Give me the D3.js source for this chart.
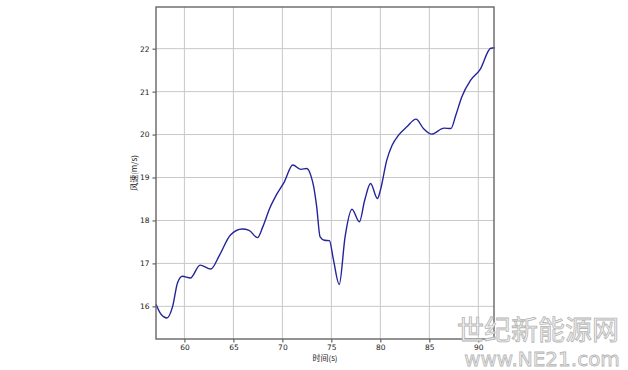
<!DOCTYPE html>
<html>
<head>
<meta charset="utf-8">
<script src="https://cdn.jsdelivr.net/npm/d3@7"></script>
<style>
  body { margin: 0; background: #fff; }
  .tick text { font-family: "DejaVu Sans", sans-serif; font-size: 7.5px; fill: #222; }
</style>
</head>
<body>
<div id="chart"></div>
<script>
// time (s) and wind speed (m/s)
const times = [57.1, 57.6, 58.2, 58.8, 59.3, 59.8, 60.6, 61.6, 62.7, 63.6, 64.7, 65.9, 66.6, 67.45, 68.0,
    68.7, 69.4, 70.2, 71.06, 71.9, 72.5, 72.9, 73.2, 73.5, 73.85, 74.3, 74.8, 75.2, 75.8, 76.4, 77.1,
    77.86, 78.4, 79.0, 79.7, 80.0, 80.65, 81.2, 81.84, 82.7, 83.64, 84.4, 85.24, 86.5, 87.2, 87.7,
    88.3, 89.2, 90.17, 91.27, 91.7];
const speeds = [16.05, 15.82, 15.73, 16.0, 16.55, 16.7, 16.66, 16.96, 16.87, 17.2, 17.66, 17.8, 17.77, 17.6, 17.85,
    18.28, 18.6, 18.9, 19.29, 19.19, 19.21, 19.05, 18.78, 18.32, 17.62, 17.54, 17.53, 17.1, 16.51, 17.62, 18.26,
    17.97, 18.47, 18.86, 18.51, 18.7, 19.4, 19.75, 19.98, 20.18, 20.36, 20.14, 20.01, 20.15, 20.14, 20.45,
    20.87, 21.26, 21.51, 22.01, 22.02];
const xTicks = [60, 65, 70, 75, 80, 85, 90];
const yTicks = [16, 17, 18, 19, 20, 21, 22];

const width = 628, height = 370;
const margin = { top: 7, right: 134, bottom: 31, left: 156 };
const w = width - margin.left - margin.right;
const h = height - margin.top - margin.bottom;

const svg = d3.select('#chart').append('svg')
    .attr('width', width)
    .attr('height', height);

const g = svg.append('g')
    .attr('transform', `translate(${margin.left},${margin.top})`);

const x = d3.scaleLinear().domain([57.1, 91.6]).range([0, w]);
const y = d3.scaleLinear().domain([15.24, 22.97]).range([h, 0]);

// grid
g.append('g').selectAll('line').data(xTicks).enter().append('line')
    .attr('x1', d => x(d)).attr('x2', d => x(d))
    .attr('y1', 0).attr('y2', h)
    .attr('stroke', '#c8c8c8').attr('stroke-width', 1);
g.append('g').selectAll('line').data(yTicks).enter().append('line')
    .attr('x1', 0).attr('x2', w)
    .attr('y1', d => y(d)).attr('y2', d => y(d))
    .attr('stroke', '#c8c8c8').attr('stroke-width', 1);

// axes
const xAxis = g.append('g')
    .attr('transform', `translate(0,${h})`)
    .call(d3.axisBottom(x).tickValues(xTicks).tickSize(3.5).tickPadding(2).tickFormat(d3.format('d')));
const yAxis = g.append('g')
    .call(d3.axisLeft(y).tickValues(yTicks).tickSize(3.5).tickPadding(3).tickFormat(d3.format('d')));
[xAxis, yAxis].forEach(a => {
    a.select('.domain').remove();
    a.selectAll('.tick line').attr('stroke', '#444');
});

// the curve
const data = times.map((t, i) => ({ t: t, v: speeds[i] }));
const line = d3.line()
    .x(d => x(d.t))
    .y(d => y(d.v))
    .curve(d3.curveMonotoneX);

g.append('path')
    .datum(data)
    .attr('fill', 'none')
    .attr('stroke', '#24249a')
    .attr('stroke-width', 1.4)
    .attr('d', line);

// frame
g.append('rect')
    .attr('x', 0).attr('y', 0)
    .attr('width', w).attr('height', h)
    .attr('fill', 'none')
    .attr('stroke', '#666')
    .attr('stroke-width', 1.4);

// axis labels
svg.append('text')
    .attr('x', margin.left + w / 2)
    .attr('y', 361)
    .attr('text-anchor', 'middle')
    .attr('font-family', '"Noto Sans CJK SC", sans-serif')
    .attr('font-size', 8)
    .attr('fill', '#222')
    .text('时间(s)');

svg.append('text')
    .attr('transform', `translate(137,${margin.top + h / 2}) rotate(-90)`)
    .attr('text-anchor', 'middle')
    .attr('font-family', '"Noto Sans CJK SC", sans-serif')
    .attr('font-size', 8)
    .attr('fill', '#222')
    .text('风速(m/s)');

// watermark
svg.append('text')
    .attr('x', 538).attr('y', 340)
    .attr('text-anchor', 'middle')
    .attr('font-family', '"Noto Sans CJK SC", sans-serif')
    .attr('font-size', 27)
    .attr('fill', '#f4f4f4')
    .attr('stroke', '#b4b4b4')
    .attr('stroke-width', 0.8)
    .text('世纪新能源网');
svg.append('text')
    .attr('x', 542).attr('y', 366)
    .attr('text-anchor', 'middle')
    .attr('font-family', '"DejaVu Sans", sans-serif')
    .attr('font-size', 20)
    .attr('fill', '#f4f4f4')
    .attr('stroke', '#b4b4b4')
    .attr('stroke-width', 0.8)
    .text('www.NE21.com');
</script>
</body>
</html>
